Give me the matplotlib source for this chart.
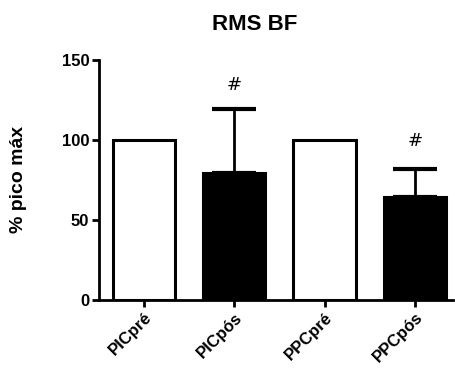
import matplotlib
matplotlib.use('Agg')
import matplotlib.pyplot as plt

plt.rcParams['font.family'] = ['Liberation Sans', 'DejaVu Sans']

groups = ['PICpré', 'PICpós', 'PPCpré', 'PPCpós']
means = [100, 79.5, 100, 64.5]
sd_upper = [0, 39.5, 0, 17.5]
colors = ['white', 'black', 'white', 'black']
marks = ['', '#', '', '#']
mark_y = [0, 134, 0, 99]

fig = plt.figure(figsize=(4.56, 3.74), dpi=100)
ax = fig.add_axes([0.217, 0.198, 0.776, 0.642])

x = list(range(len(groups)))
ax.bar(x, means, width=0.69, color=colors, edgecolor='black', linewidth=2.2, zorder=2)
for i in x:
    if sd_upper[i] > 0:
        ax.errorbar(i, means[i], yerr=[[0], [sd_upper[i]]], fmt='none', ecolor='black',
                    elinewidth=2, capsize=16, capthick=3, zorder=3)
    if marks[i]:
        ax.text(i, mark_y[i], marks[i], ha='center', va='center', fontsize=13,
                family='DejaVu Sans')

ax.set_xlim(-0.5, 3.42)
ax.set_ylim(0, 150)
ax.set_yticks([0, 50, 100, 150])
ax.set_xticks(x)
ax.set_xticklabels(groups, rotation=45, ha='right', rotation_mode='anchor',
                   fontsize=12, fontweight='bold')
for lab in ax.get_yticklabels():
    lab.set_fontweight('bold')
    lab.set_fontsize(12)
ax.spines['top'].set_visible(False)
ax.spines['right'].set_visible(False)
ax.spines['left'].set_linewidth(2)
ax.spines['bottom'].set_linewidth(2)
ax.tick_params(width=2, length=5, pad=2)

# title and y label placed like the original export
fig.text(255 / 456, 1 - 24 / 374, 'RMS BF', ha='center', va='center',
         fontsize=16, fontweight='bold')
fig.text(19 / 456, 1 - 179 / 374, '% pico máx', ha='center', va='center',
         rotation=90, fontsize=14, fontweight='bold')

fig.savefig('out.png', dpi=100)
